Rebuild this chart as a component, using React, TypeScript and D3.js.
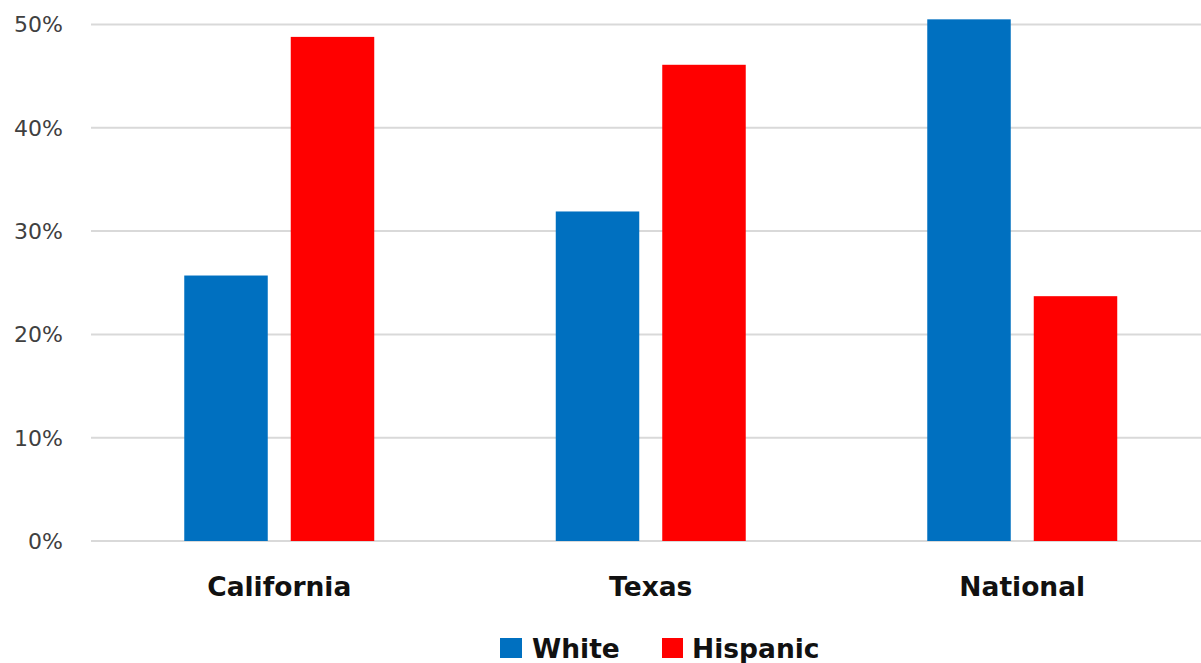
import React from "react";
import * as d3 from "d3";

const categories = ["California", "Texas", "National"];
const seriesNames = ["White", "Hispanic"];
const whiteValues = [25.7, 31.9, 50.5];
const hispanicValues = [48.8, 46.1, 23.7];
const yTicks = [0, 10, 20, 30, 40, 50];
const colors = ["#0070C0", "#FF0000"];

const W = 1201;
const H = 663;
const gridLeft = 91;
const gridRight = 1201;
const bandLeft = 93.5;
const bandRight = 1208;
const yZero = 541;
const yTop = 24.5;

export default function App() {
  const x = d3
    .scaleBand<string>()
    .domain(categories)
    .range([bandLeft, bandRight])
    .paddingInner(0.4886)
    .paddingOuter(0.2443);
  const xs = d3
    .scaleBand<string>()
    .domain(seriesNames)
    .range([0, x.bandwidth()])
    .paddingInner(0.216)
    .paddingOuter(0);
  const y = d3.scaleLinear().domain([0, 50]).range([yZero, yTop]);
  const series = [whiteValues, hispanicValues];
  const font = "'DejaVu Sans', Verdana, sans-serif";

  return (
    <svg
      width={W}
      height={H}
      style={{ position: "absolute", left: 0, top: 0, background: "#fff" }}
      fontFamily={font}
    >
      <rect x={0} y={0} width={W} height={H} fill="#fff" />
      {yTicks.map((t) => (
        <g key={t}>
          <line
            x1={gridLeft}
            x2={gridRight}
            y1={y(t)}
            y2={y(t)}
            stroke="#d9d9d9"
            strokeWidth={2}
          />
          <text
            x={63}
            y={y(t)}
            dy="0.36em"
            textAnchor="end"
            fontSize={22}
            fill="#404040"
          >
            {t}%
          </text>
        </g>
      ))}
      {categories.map((c, i) => (
        <g key={c} transform={`translate(${x(c)},0)`}>
          {seriesNames.map((s, j) => (
            <rect
              key={s}
              x={xs(s)}
              y={y(series[j][i])}
              width={xs.bandwidth()}
              height={yZero - y(series[j][i])}
              fill={colors[j]}
            />
          ))}
          <text
            x={x.bandwidth() / 2}
            y={596}
            textAnchor="middle"
            fontSize={26.5}
            fontWeight="bold"
            fill="#111"
          >
            {c}
          </text>
        </g>
      ))}
      <g>
        <rect x={500} y={638} width={22} height={20} fill={colors[0]} />
        <text x={532} y={658} fontSize={26.5} fontWeight="bold" fill="#111">
          {seriesNames[0]}
        </text>
        <rect x={662} y={638} width={21} height={20} fill={colors[1]} />
        <text x={692} y={658} fontSize={26.5} fontWeight="bold" fill="#111">
          {seriesNames[1]}
        </text>
      </g>
    </svg>
  );
}
